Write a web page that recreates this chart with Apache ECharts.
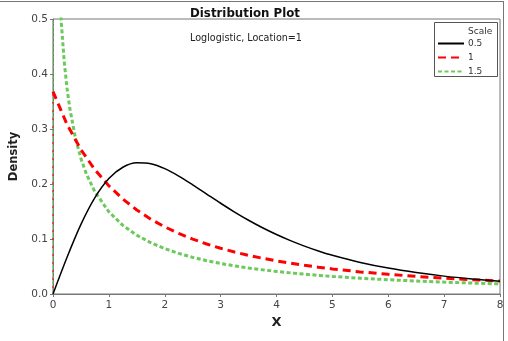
<!DOCTYPE html>
<html>
<head>
<meta charset="utf-8">
<script src="https://cdn.jsdelivr.net/npm/echarts@6/dist/echarts.min.js"></script>
<style>
html,body{margin:0;padding:0;background:#fff;}
#c{width:508px;height:341px;}
</style>
</head>
<body>
<div id="c"></div>
<script>
const seriesNames = ['0.5', '1', '1.5'];
const xTicks = [0, 1, 2, 3, 4, 5, 6, 7, 8];
const yTicks = [0, 0.1, 0.2, 0.3, 0.4, 0.5];

const xsBlack = [0, 0.25, 0.5, 0.75, 1, 1.25, 1.5, 1.75, 2, 2.25, 2.5, 2.75, 3, 3.25, 3.5, 3.75, 4, 4.25, 4.5, 4.75, 5, 5.5, 6, 6.5, 7, 7.5, 8];
const scale05 = [0, 0.0665, 0.1266, 0.1753, 0.2100, 0.2305, 0.2386, 0.2367, 0.2279, 0.2145, 0.1986, 0.1818, 0.1650, 0.1490, 0.1341, 0.1204, 0.1081, 0.0970, 0.0871, 0.0783, 0.0704, 0.0574, 0.0471, 0.0390, 0.0325, 0.0274, 0.0232];

const xsRed = [0, 0.25, 0.5, 0.75, 1, 1.25, 1.5, 1.75, 2, 2.25, 2.5, 2.75, 3, 3.25, 3.5, 3.75, 4, 4.25, 4.5, 4.75, 5, 5.5, 6, 6.5, 7, 7.5, 8];
const scale1 = [0.368, 0.3085, 0.2625, 0.2259, 0.1966, 0.1726, 0.1528, 0.1361, 0.1221, 0.1101, 0.0998, 0.0909, 0.0831, 0.0763, 0.0703, 0.0650, 0.0602, 0.0560, 0.0522, 0.0487, 0.0456, 0.0402, 0.0358, 0.0320, 0.0288, 0.0260, 0.0237];

const xsGreen = [0.05, 0.1, 0.15, 0.2, 0.25, 0.3, 0.4, 0.5, 0.6, 0.75, 1, 1.25, 1.5, 1.75, 2, 2.25, 2.5, 2.75, 3, 3.25, 3.5, 3.75, 4, 4.25, 4.5, 4.75, 5, 5.5, 6, 6.5, 7, 7.5, 8];
const scale15 = [0.812, 0.598, 0.4915, 0.4234, 0.375, 0.338, 0.2841, 0.2462, 0.2177, 0.1858, 0.1494, 0.1248, 0.1069, 0.0932, 0.0825, 0.0738, 0.0666, 0.0606, 0.0555, 0.0511, 0.0473, 0.0439, 0.0410, 0.0384, 0.0360, 0.0339, 0.0320, 0.0287, 0.0259, 0.0236, 0.0216, 0.0199, 0.0184];

// vertical start segments at x = 0 (density jumps from 0)
const xsJump = [0, 0];
const jumpRed = [0, 0.368];
const jumpGreen = [0, 0.5];

function pairs(xs, ys) { return xs.map((x, i) => [x, ys[i]]); }

const chart = echarts.init(document.getElementById('c'), null, {renderer: 'canvas'});
const axisFont = {fontFamily: 'DejaVu Sans', fontSize: 10.5, color: '#444'};
chart.setOption({
  animation: false,
  backgroundColor: '#fff',
  title: [
    {text: 'Distribution Plot', left: 240, top: 3, textAlign: 'center',
     textStyle: {fontFamily: 'DejaVu Sans', fontWeight: 'bold', fontSize: 11.8, color: '#111'}},
    {text: 'Loglogistic, Location=1', left: 241, top: 28, textAlign: 'center',
     textStyle: {fontFamily: 'DejaVu Sans', fontWeight: 'normal', fontSize: 9.6, color: '#222'}}
  ],
  grid: {left: 51, right: 8, top: 19, bottom: 47, show: true, borderColor: '#777', borderWidth: 1, backgroundColor: 'transparent'},
  xAxis: {
    type: 'value', min: 0, max: 8, interval: 1,
    name: 'X', nameLocation: 'middle', nameGap: 20,
    nameTextStyle: {fontFamily: 'DejaVu Sans', fontWeight: 'bold', fontSize: 13, color: '#222'},
    axisLine: {onZero: false, lineStyle: {color: '#777', width: 1}},
    axisTick: {show: true, length: 3, lineStyle: {color: '#777'}},
    axisLabel: Object.assign({margin: 6, formatter: v => String(v)}, axisFont),
    splitLine: {show: false}
  },
  yAxis: {
    type: 'value', min: 0, max: 0.5, interval: 0.1,
    name: 'Density', nameLocation: 'middle', nameGap: 33,
    nameTextStyle: {fontFamily: 'DejaVu Sans', fontWeight: 'bold', fontSize: 11.5, color: '#222'},
    axisLine: {show: true, onZero: false, lineStyle: {color: '#777', width: 1}},
    axisTick: {show: true, length: 3, lineStyle: {color: '#777'}},
    axisLabel: Object.assign({margin: 5, formatter: v => v.toFixed(1)}, axisFont),
    splitLine: {show: false}
  },
  legend: {
    data: seriesNames,
    orient: 'vertical', left: 437, top: 39,
    itemWidth: 26, itemHeight: 8, itemGap: 5,
    padding: 0,
    itemStyle: {opacity: 0, borderWidth: 0},
    textStyle: {fontFamily: 'DejaVu Sans', fontSize: 9, color: '#333', padding: [0, 0, 0, -1]}
  },
  graphic: [
    {type: 'rect', z: 0, shape: {x: 434.5, y: 22.5, width: 63, height: 54},
     style: {fill: '#fff', stroke: '#555', lineWidth: 1}},
    {type: 'text', z: 10, left: 468, top: 27,
     style: {text: 'Scale', font: '9px "DejaVu Sans"', fill: '#333'}},
    {type: 'line', shape: {x1: 0, y1: 1.5, x2: 504, y2: 1.5}, style: {stroke: '#777', lineWidth: 1}},
    {type: 'line', shape: {x1: 503.5, y1: 1, x2: 503.5, y2: 341}, style: {stroke: '#777', lineWidth: 1}}
  ],
  series: [
    {name: seriesNames[0], type: 'line', data: pairs(xsBlack, scale05), showSymbol: false, symbol: 'none',
     smooth: 0.3, lineStyle: {color: '#000', width: 1.5}, itemStyle: {color: '#000'}, z: 4},
    {name: seriesNames[1], type: 'line', data: pairs(xsRed, scale1), showSymbol: false, symbol: 'none',
     lineStyle: {color: '#ff0000', width: 3, type: [8, 5]}, itemStyle: {color: '#ff0000'}, z: 3},
    {name: seriesNames[2], type: 'line', data: pairs(xsGreen, scale15), showSymbol: false, symbol: 'none',
     lineStyle: {color: '#6cc95c', width: 3, type: [4, 2.5]}, itemStyle: {color: '#6cc95c'}, z: 2},
    {name: 'jumpGreen', type: 'line', data: pairs(xsJump, jumpGreen), showSymbol: false, symbol: 'none',
     lineStyle: {color: '#6cc95c', width: 1, type: [3, 2]}, z: 2},
    {name: 'jumpRed', type: 'line', data: pairs(xsJump, jumpRed), showSymbol: false, symbol: 'none',
     lineStyle: {color: '#ff0000', width: 1, type: [2, 6], dashOffset: 2}, z: 3}
  ]
});
</script>
</body>
</html>
